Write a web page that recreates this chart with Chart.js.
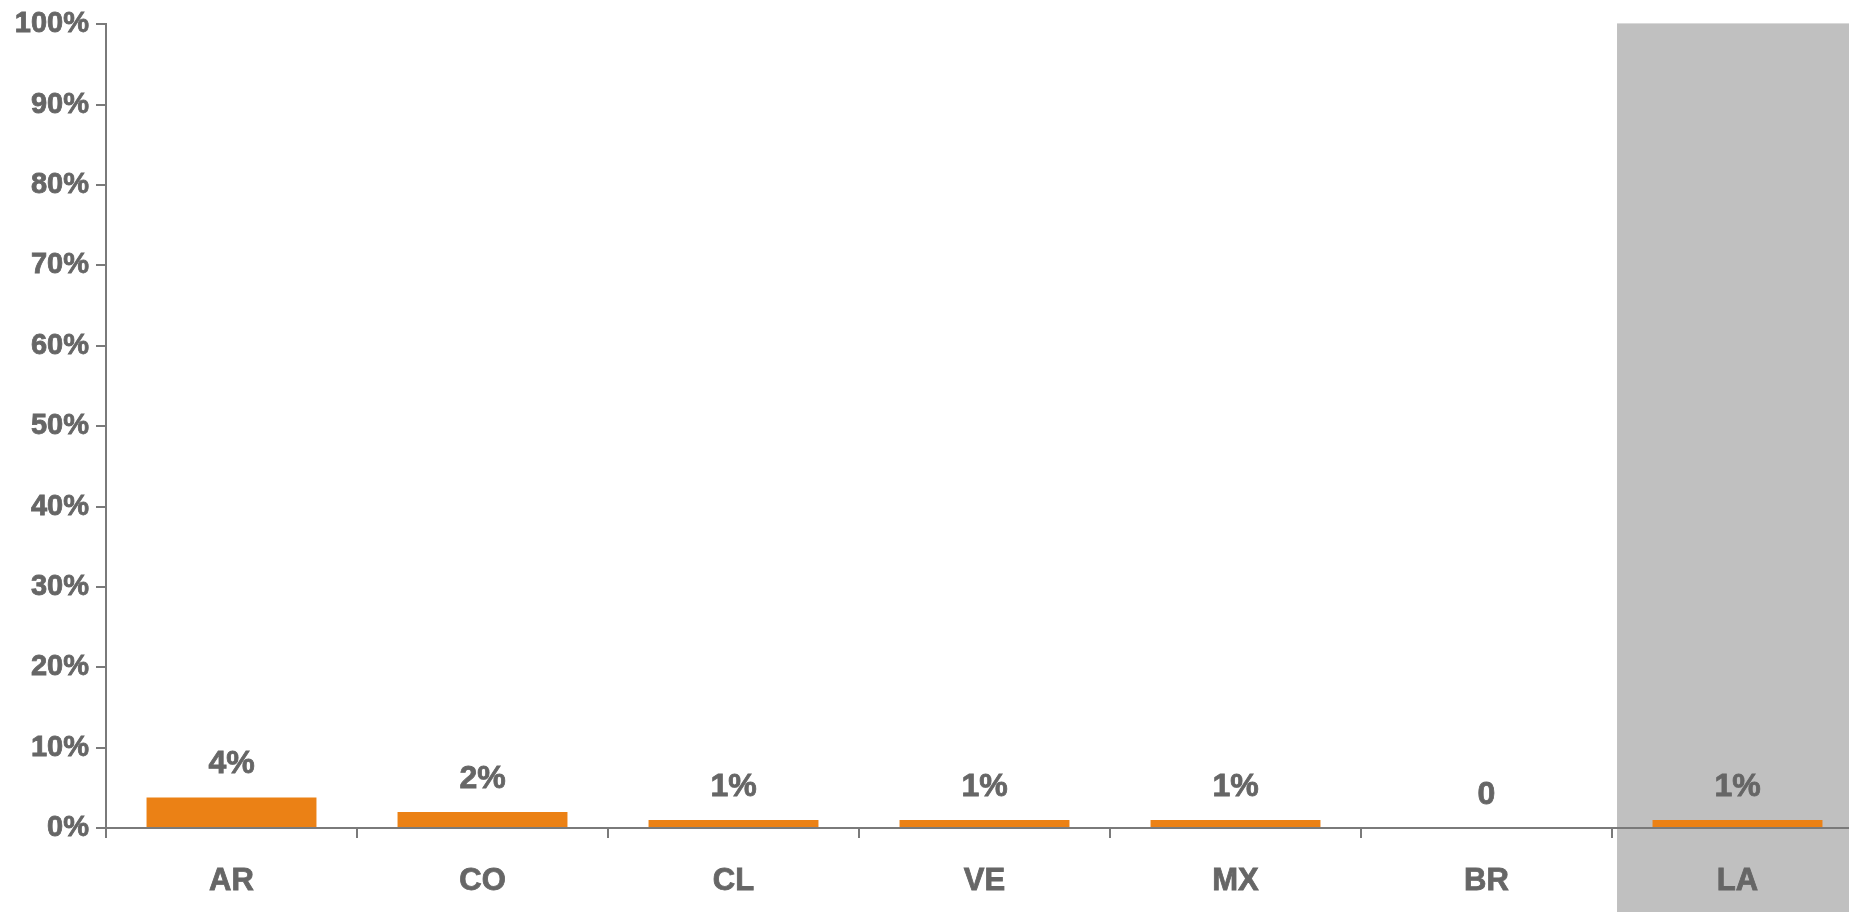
<!DOCTYPE html>
<html>
<head>
<meta charset="utf-8">
<script src="https://cdn.jsdelivr.net/npm/chart.js@4.4.1/dist/chart.umd.min.js"></script>
<style>
  html, body { margin: 0; padding: 0; background: #ffffff; overflow: hidden; }
  #wrap { position: relative; width: 1870px; height: 912px; }
</style>
</head>
<body>
<div id="wrap"><canvas id="c"></canvas></div>
<script>
const categories = ['AR', 'CO', 'CL', 'VE', 'MX', 'BR', 'LA'];
const values = [3.8, 2.0, 1.0, 1.0, 1.0, 0, 1.0];
const valueLabels = ['4%', '2%', '1%', '1%', '1%', '0', '1%'];
const highlightCategory = 'LA';
const yTicksMax = 100;

const TEXT = '#666666';
const AXIS = '#7a7a7a';
const FONT = '"Liberation Sans", Arial, sans-serif';

const shadePlugin = {
  id: 'shade',
  beforeDraw(chart) {
    const x = chart.scales.x, y = chart.scales.y;
    const idx = categories.indexOf(highlightCategory);
    const w = x.getPixelForValue(1) - x.getPixelForValue(0);
    const left = x.getPixelForValue(idx) - w / 2 + w * 0.02;
    const top = y.getPixelForValue(yTicksMax) - 1;
    const ctx = chart.ctx;
    ctx.save();
    ctx.fillStyle = '#c0c0c0';
    ctx.fillRect(left, top, chart.width - left, chart.height - top);
    ctx.restore();
  }
};

const labelPlugin = {
  id: 'valLabels',
  afterDatasetsDraw(chart) {
    const meta = chart.getDatasetMeta(0);
    const ctx = chart.ctx;
    ctx.save();
    ctx.font = 'bold 32px ' + FONT;
    ctx.fillStyle = TEXT;
    ctx.strokeStyle = TEXT;
    ctx.lineWidth = 0.8;
    ctx.textAlign = 'center';
    ctx.textBaseline = 'middle';
    meta.data.forEach((bar, i) => {
      ctx.fillText(valueLabels[i], bar.x, bar.y - 33);
      ctx.strokeText(valueLabels[i], bar.x, bar.y - 33);
    });
    ctx.restore();
  }
};

new Chart(document.getElementById('c'), {
  type: 'bar',
  data: {
    labels: categories,
    datasets: [{
      data: values,
      backgroundColor: '#EB8115',
      borderWidth: 0,
      barPercentage: 0.677,
      categoryPercentage: 1.0
    }]
  },
  options: {
    responsive: true,
    maintainAspectRatio: false,
    animation: false,
    layout: { padding: { top: 23, right: 7, left: 0, bottom: 0 } },
    plugins: { legend: { display: false }, tooltip: { enabled: false } },
    scales: {
      x: {
        offset: true,
        grid: { display: true, drawOnChartArea: false, offset: true, tickLength: 10, color: AXIS, lineWidth: 2 },
        border: { display: true, color: AXIS, width: 2 },
        ticks: { color: TEXT, textStrokeColor: TEXT, textStrokeWidth: 0.8, font: { family: FONT, size: 31, weight: 'bold' }, padding: 25, maxRotation: 0 },
        afterFit(s) { s.height = 84; }
      },
      y: {
        min: 0,
        max: yTicksMax,
        grid: { display: true, drawOnChartArea: false, tickLength: 10, color: AXIS, lineWidth: 2 },
        border: { display: true, color: AXIS, width: 2 },
        ticks: {
          stepSize: 10,
          color: TEXT,
          textStrokeColor: TEXT,
          textStrokeWidth: 0.8,
          padding: 7,
          font: { family: FONT, size: 29, weight: 'bold' },
          callback: v => v + '%'
        },
        afterFit(s) { s.width = 106; }
      }
    }
  },
  plugins: [shadePlugin, labelPlugin]
});
</script>
</body>
</html>
